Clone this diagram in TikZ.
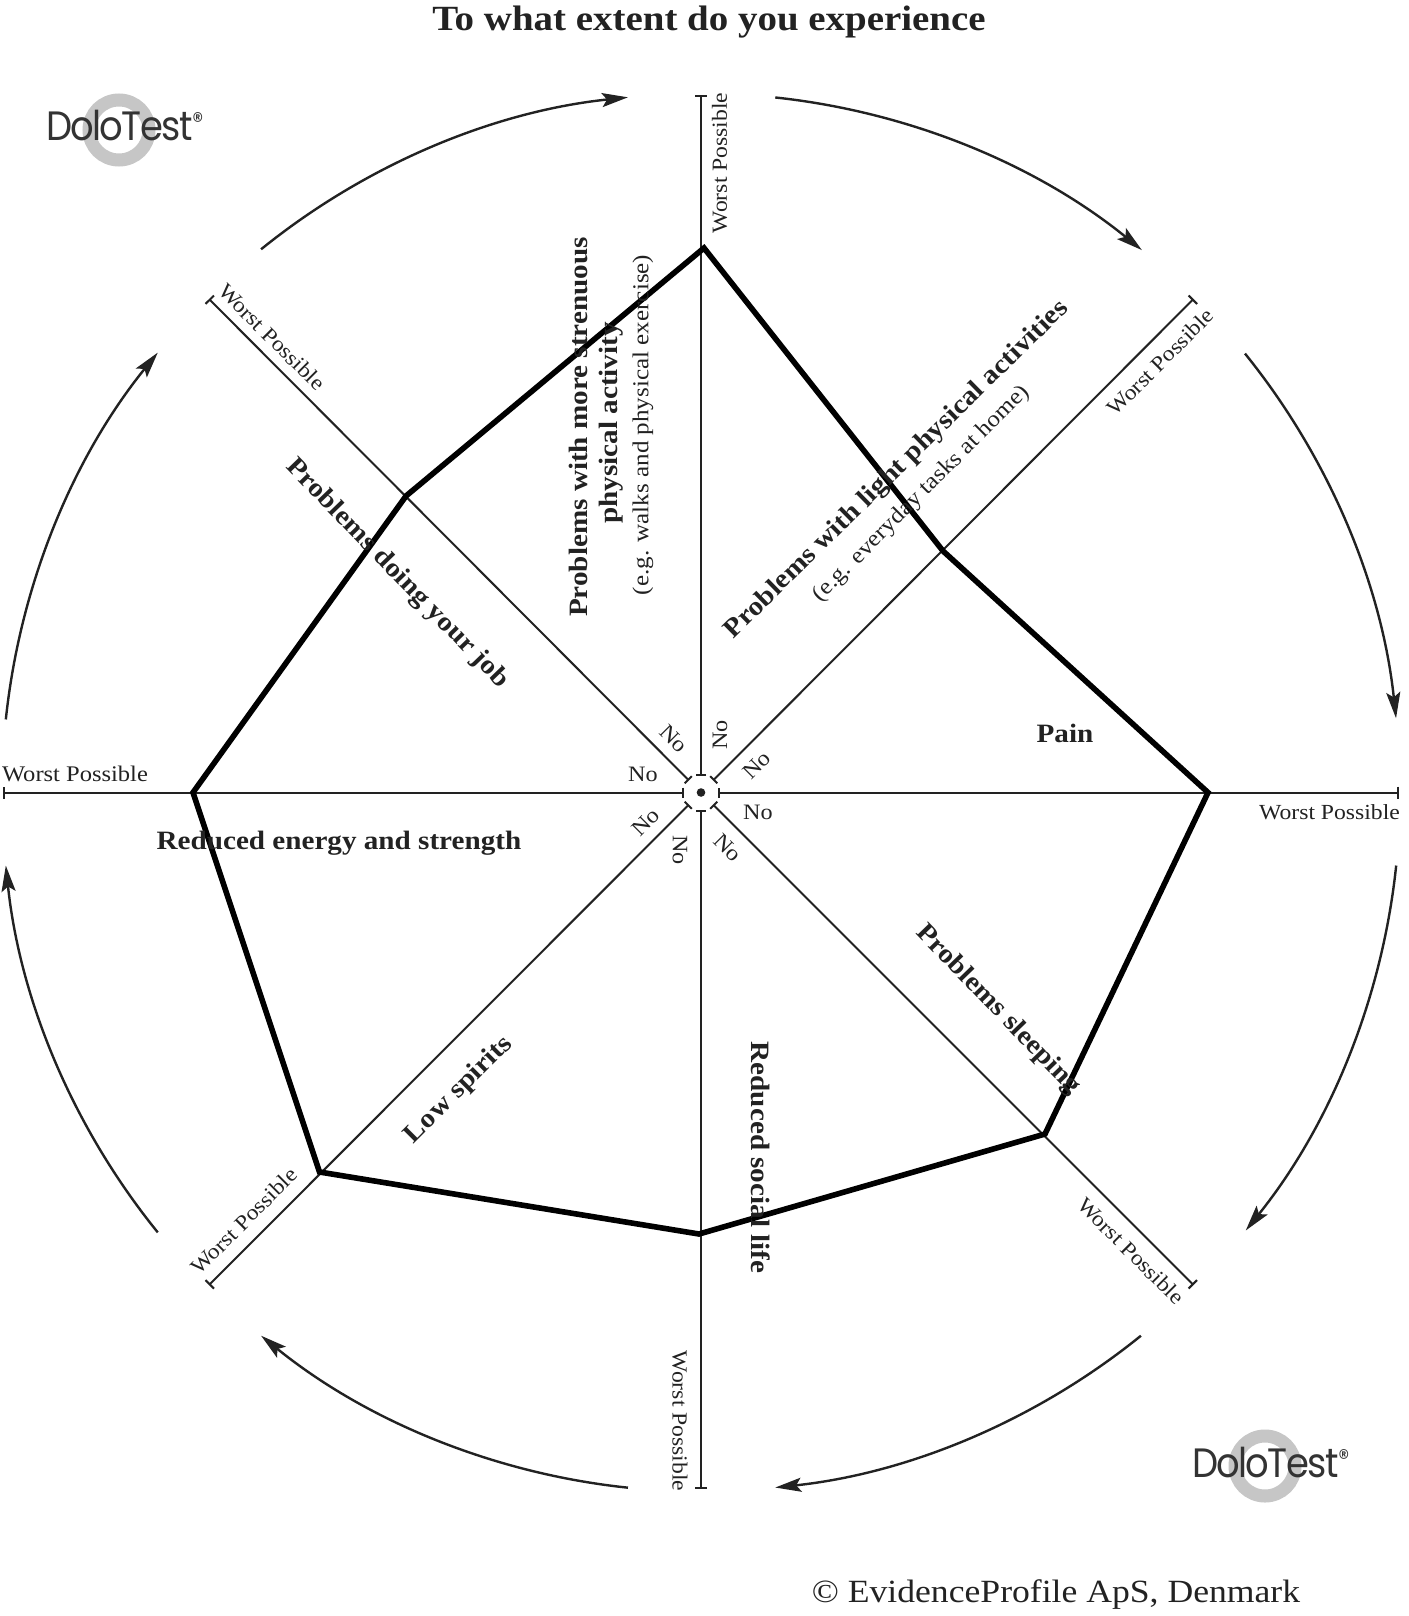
\documentclass[tikz,border=0pt]{standalone}
\usepackage{fontspec}
\usetikzlibrary{arrows.meta,calc}
\setmainfont{Liberation Serif}[FakeStretch=1.1]
\newfontfamily\logofont{Poppins}[FakeStretch=0.9,LetterSpace=-4]
\definecolor{ink}{HTML}{222222}
\definecolor{ringgray}{HTML}{C6C6C6}
\definecolor{logoink}{HTML}{333333}
\tikzset{
  x=1pt,y=1pt,
  lbl/.style={inner sep=0pt,outer sep=0pt,text=ink,font=\fontsize{21.5}{24}\selectfont},
  bld/.style={inner sep=0pt,outer sep=0pt,text=ink,font=\fontsize{26.5}{28}\selectfont\bfseries},
  nolbl/.style={lbl,font=\fontsize{22}{24}\selectfont},
  sublbl/.style={lbl,font=\fontsize{22.8}{26}\selectfont},
  spoke/.style={line width=2pt,draw=ink,{Bar[width=10pt,length=1.8pt]}-{Bar[width=12pt,length=1.8pt]}},
  arrowarc/.style={line width=2.4pt,draw=ink,-{Stealth[length=26pt,width=14pt,inset=5pt]}},
  profile/.style={line width=5.6pt,draw=black,line join=miter},
  ring/.style={circle,draw=ringgray,line width=13pt,minimum size=60pt,inner sep=0pt,outer sep=0pt},
  logo/.style={inner sep=0pt,outer sep=0pt,anchor=base west,text=logoink,font=\logofont\fontsize{41}{44}\selectfont},
}
\begin{document}
\begin{tikzpicture}
\useasboundingbox (0,0) rectangle (1408,-1616);
\fill[white] (0,0) rectangle (1408,-1616);
\coordinate (c) at (701,-792.5);
% logos
\node[ring] (ring1) at (119,-130) {};
\node[ring] (ring2) at (1265,-1466) {};
\node[logo] (logo1) at (46,-141) {DoloTest\raisebox{11pt}{\fontsize{24}{24}\selectfont®}};
\node[logo] (logo2) at (1192,-1477) {DoloTest\raisebox{11pt}{\fontsize{24}{24}\selectfont®}};
% spokes
\foreach \n/\a/\ex/\ey in {N/90/701/95,NE/45/1193.5/299,E/0/1399/792.5,SE/-45/1193.5/1285,S/-90/701/1489,SW/-135/209/1285,W/180/3/792.5,NW/135/209/299}{
  \coordinate (i\n) at ($(c)+(\a:17)$);
  \coordinate (e\n) at (\ex,-\ey);
  \draw[spoke] (i\n) -- (e\n);
}
\fill[ink] (c) circle[radius=4.3];
% clockwise arcs
\foreach \n/\s/\e in {a/83.9/50.9,b/38.9/6.1,d/-6/-38.8,f/-51/-83.9,g/-96/-129,h/-141/-174,k/174/141,m/129/96}{
  \coordinate (\n) at ($(c)+(\s:699)$);
  \draw[arrowarc] (\n) arc[start angle=\s,end angle=\e,radius=699];
}
% profile
\coordinate (p1) at (704,-248);
\coordinate (p2) at (943,-551);
\coordinate (p3) at (1208,-792.5);
\coordinate (p4) at (1045,-1134);
\coordinate (p5) at (699,-1234);
\coordinate (p6) at (319.5,-1172);
\coordinate (p7) at (193,-792.5);
\coordinate (p8) at (406,-496);
\draw[profile] (p1)--(p2)--(p3)--(p4)--(p5)--(p6)--(p7)--(p8)--cycle;
% titles
\node[inner sep=0pt,text=ink,font=\fontsize{35.4}{38}\selectfont\bfseries] (title) at (709,-22) {To what extent do you experience};
\node[inner sep=0pt,text=ink,font=\fontsize{32.4}{34}\selectfont] (copy) at (1056,-1595) {© EvidenceProfile ApS, Denmark};
% Worst Possible
\node[lbl,rotate=90] (wN) at (719.5,-163) {Worst Possible};
\node[lbl,rotate=45] (wNE) at (1160.5,-362) {Worst Possible};
\node[lbl] (wE) at (1329.5,-812) {Worst Possible};
\node[lbl,rotate=-45] (wSE) at (1131,-1251) {Worst Possible};
\node[lbl,rotate=-90] (wS) at (680,-1421) {Worst Possible};
\node[lbl,rotate=45] (wSW) at (244,-1221) {Worst Possible};
\node[lbl,font=\fontsize{22.3}{24}\selectfont] (wW) at (75,-774) {Worst Possible};
\node[lbl,rotate=-45] (wNW) at (272,-337) {Worst Possible};
% No
\node[nolbl,rotate=90] (nN) at (720,-735) {No};
\node[nolbl,rotate=45] (nNE) at (757,-765) {No};
\node[nolbl] (nE) at (758,-812) {No};
\node[nolbl,rotate=-45] (nSE) at (728,-848) {No};
\node[nolbl,rotate=-90] (nS) at (680,-850) {No};
\node[nolbl,rotate=45] (nSW) at (646,-822) {No};
\node[nolbl] (nW) at (643,-774) {No};
\node[nolbl,rotate=-45] (nNW) at (674,-739) {No};
% dimension labels
\node[bld,rotate=90] (d1a) at (578,-427) {Problems with more strenuous};
\node[bld,rotate=90] (d1b) at (611,-423) {physical activity};
\node[sublbl,rotate=90] (d1c) at (643,-425) {(e.g. walks and physical exercise)};
\node[bld,rotate=44.5] (d2a) at (897,-470) {Problems with light physical activities};
\node[sublbl,rotate=45] (d2b) at (921.5,-494) {(e.g. everyday tasks at home)};
\node[bld,rotate=-46] (d3) at (397,-574) {Problems doing your job};
\node[bld] (d4) at (1065,-733) {Pain};
\node[bld] (d5) at (339,-843) {Reduced energy and strength};
\node[bld,rotate=-46] (d6) at (998,-1010) {Problems sleeping};
\node[bld,rotate=-90] (d7) at (761,-1157.5) {Reduced social life};
\node[bld,rotate=45] (d8) at (459,-1090) {Low spirits};
\end{tikzpicture}
\end{document}
